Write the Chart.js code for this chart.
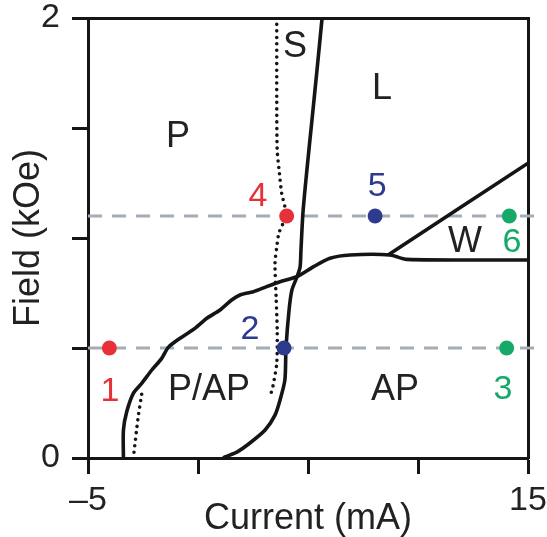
<!DOCTYPE html>
<html>
<head>
<meta charset="utf-8">
<script src="https://cdn.jsdelivr.net/npm/chart.js@4"></script>
<style>
  html, body { margin: 0; padding: 0; background: #fff; }
</style>
</head>
<body>
<canvas id="myChart" width="547" height="537"></canvas>
<script>
// phase boundaries, current in mA and field in kOe
const boundaryACurrent = [5.64, 5.41, 5.18, 4.95, 4.77, 4.68, 4.64, 4.5, 4.27, 4.14, 4.0, 3.95, 3.73, 3.5, 3.05, 2.36, 1.77, 1.23, 1.14];
const boundaryAField   = [2.0, 1.764, 1.536, 1.309, 1.114, 0.945, 0.868, 0.823, 0.764, 0.673, 0.5, 0.355, 0.264, 0.195, 0.127, 0.068, 0.027, 0.005, 0];

const boundaryBCurrent = [-3.39, -3.39, -3.24, -2.94, -2.56, -2.1, -1.65, -1.35, -0.82, -0.14, 0.4, 1.0, 1.53, 1.91, 2.52, 3.12, 3.73, 4.49, 5.24, 6.0, 6.91, 8.73, 9.48, 15];
const boundaryBField   = [0, 0.127, 0.21, 0.294, 0.339, 0.4, 0.453, 0.503, 0.544, 0.589, 0.635, 0.673, 0.718, 0.741, 0.756, 0.779, 0.801, 0.824, 0.869, 0.908, 0.923, 0.923, 0.903, 0.9];

const boundaryWCurrent = [8.64, 15];
const boundaryWField   = [0.923, 1.34];

const dottedRightCurrent = [3.58, 3.58, 3.6, 3.7, 3.8, 4.0, 3.68, 3.58, 3.5, 3.55, 3.6, 3.58, 3.4, 3.32];
const dottedRightField   = [2.0, 1.627, 1.4, 1.295, 1.205, 1.105, 1.023, 0.959, 0.886, 0.732, 0.582, 0.432, 0.323, 0.295];

const dottedLeftCurrent = [-2.56, -2.7, -2.8, -2.94];
const dottedLeftField   = [0.29, 0.2, 0.12, 0];

// measurement states 1..6
const stateCurrent = [-4.03, 3.91, 14.03, 4.03, 8.05, 14.15];
const stateField   = [0.5, 0.5, 0.5, 1.1, 1.1, 1.1];
const stateNames   = ['1', '2', '3', '4', '5', '6'];
const stateLabelCurrent = [-4.0, 2.36, 13.86, 2.73, 8.14, 14.27];
const stateLabelField   = [0.3, 0.582, 0.309, 1.186, 1.232, 0.977];

const dashedCurrent = [-5, 15.7];
const dashedFields  = [0.5, 1.1];

const regionNames   = ['P', 'S', 'L', 'W', 'P/AP', 'AP'];
const regionCurrent = [-0.91, 4.41, 8.36, 12.14, 0.5, 8.95];
const regionField   = [1.459, 1.868, 1.677, 0.982, 0.309, 0.309];

const red = '#e8303a';
const blue = '#2e3a8e';
const green = '#17a96a';
const stateColors = [red, blue, green, red, blue, green];
const ink = '#151515';
const FONT = "'Liberation Sans', Arial, sans-serif";

function zip(xs, ys) {
    return xs.map((x, i) => ({ x: x, y: ys[i] }));
}

const textLabels = {
    id: 'textLabels',
    afterDatasetsDraw(chart) {
        const ctx = chart.ctx;
        const xs = chart.scales.x;
        const ys = chart.scales.y;
        ctx.save();
        ctx.textAlign = 'center';
        ctx.textBaseline = 'middle';
        ctx.font = '36px ' + FONT;
        ctx.fillStyle = '#222';
        regionNames.forEach((t, i) => {
            ctx.fillText(t, xs.getPixelForValue(regionCurrent[i]), ys.getPixelForValue(regionField[i]));
        });
        ctx.font = '34px ' + FONT;
        stateNames.forEach((t, i) => {
            ctx.fillStyle = stateColors[i];
            ctx.fillText(t, xs.getPixelForValue(stateLabelCurrent[i]), ys.getPixelForValue(stateLabelField[i]));
        });
        ctx.restore();
    }
};

const solid = { borderColor: ink, borderWidth: 3.6, pointRadius: 0, showLine: true, tension: 0.25, fill: false };
const dotted = { borderColor: ink, borderWidth: 3.6, borderDash: [0, 6.5], borderCapStyle: 'round', pointRadius: 0, showLine: true, tension: 0.25, fill: false };

const datasets = [
    {
        data: zip(stateCurrent, stateField),
        pointBackgroundColor: stateColors,
        pointBorderWidth: 0,
        pointRadius: 7.5,
        showLine: false
    },
    Object.assign({ data: zip(boundaryACurrent, boundaryAField) }, solid),
    Object.assign({ data: zip(boundaryBCurrent, boundaryBField) }, solid),
    Object.assign({ data: zip(boundaryWCurrent, boundaryWField) }, solid),
    Object.assign({ data: zip(dottedRightCurrent, dottedRightField) }, dotted),
    Object.assign({ data: zip(dottedLeftCurrent, dottedLeftField) }, dotted)
];
dashedFields.forEach(f => {
    datasets.push({
        data: zip(dashedCurrent, dashedCurrent.map(() => f)),
        borderColor: '#a3adb8',
        borderWidth: 3,
        borderDash: [14, 10],
        pointRadius: 0,
        showLine: true,
        clip: false
    });
});

const frameAxis = {
    display: true,
    min: 0, max: 1,
    ticks: { display: false },
    grid: { display: true, drawOnChartArea: false, drawTicks: false },
    border: { display: true, color: ink, width: 3 }
};

new Chart(document.getElementById('myChart').getContext('2d'), {
    type: 'scatter',
    data: { datasets: datasets },
    plugins: [textLabels],
    options: {
        responsive: false,
        animation: false,
        devicePixelRatio: 1,
        layout: { padding: { left: 0, right: 19, top: 18, bottom: 0 } },
        plugins: { legend: { display: false }, tooltip: { enabled: false } },
        scales: {
            x: {
                type: 'linear',
                min: -5, max: 15,
                afterFit: s => { s.height = 79; s.paddingLeft = 0; s.paddingRight = 0; },
                ticks: {
                    stepSize: 5,
                    padding: 10,
                    color: '#222',
                    font: { family: FONT, size: 34, lineHeight: 1 },
                    maxRotation: 0,
                    callback: v => v === -5 ? '\u20135' : (v === 15 ? '15' : '')
                },
                grid: { drawOnChartArea: false, drawTicks: true, tickLength: 16, tickWidth: 3, tickColor: ink },
                border: { color: ink, width: 3 },
                title: {
                    display: true,
                    text: 'Current (mA)',
                    color: '#222',
                    font: { family: FONT, size: 36, lineHeight: 1 },
                    padding: { top: 0, bottom: 0 }
                }
            },
            y: {
                type: 'linear',
                min: 0, max: 2,
                afterFit: s => { s.width = 88; s.paddingTop = 0; s.paddingBottom = 0; },
                ticks: {
                    stepSize: 0.5,
                    padding: 12,
                    color: '#222',
                    font: { family: FONT, size: 34, lineHeight: 1 },
                    callback: v => v === 0 ? '0' : (v === 2 ? '2' : '')
                },
                grid: { drawOnChartArea: false, drawTicks: true, tickLength: 16, tickWidth: 3, tickColor: ink },
                border: { color: ink, width: 3 },
                title: {
                    display: true,
                    text: 'Field (kOe)',
                    color: '#222',
                    font: { family: FONT, size: 36, lineHeight: 1 },
                    padding: { top: 11, bottom: 0 }
                }
            },
            xTop: Object.assign({ position: 'top', type: 'linear', afterFit: s => { s.height = 0; } }, frameAxis),
            yRight: Object.assign({ position: 'right', type: 'linear', afterFit: s => { s.width = 0; } }, frameAxis)
        }
    }
});
</script>
</body>
</html>
